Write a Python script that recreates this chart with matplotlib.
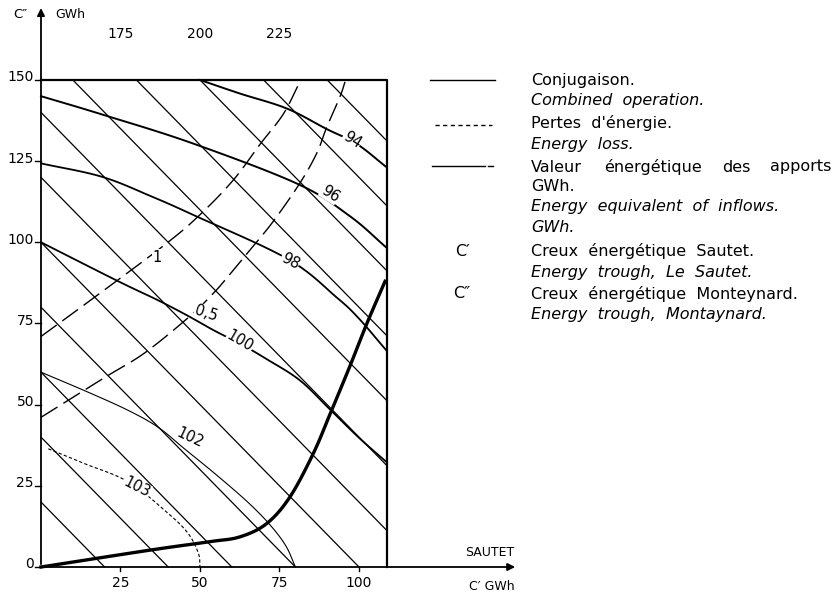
import numpy as np
import matplotlib.pyplot as plt
from matplotlib.lines import Line2D

plt.rcParams['font.family'] = ['DejaVu Sans']

W, H = 838, 601

# box limits: C' (Sautet) and C'' (Monteynard) energy troughs, GWh
c1_max = 108.7
c2_max = 150
x_axis_end = 150
y_axis_end = 173

# straight lines C' + C'' = const
totals = [20, 40, 60, 80, 100, 120, 140, 160, 180, 200, 220, 240]
total_labels = [175, 200, 225]

y_ticks = [0, 25, 50, 75, 100, 125, 150]
x_ticks = [25, 50, 75, 100]

# energy equivalent of inflows, GWh
c94_x = [50, 62.6, 77.3, 89.8, 99.3, 108.7]
c94_y = [150, 145.8, 141.2, 134.9, 130.3, 123.1]
c96_x = [0, 19.1, 47.6, 80.9, 97.2, 108.7]
c96_y = [145, 139.4, 130.5, 117.9, 108, 98.3]
c98_x = [0, 19.1, 34.8, 48.4, 77.7, 93, 100, 108.7]
c98_y = [124.3, 120.2, 114.1, 108.2, 94.8, 83, 76.5, 66.6]
c100_x = [0, 24.3, 36.9, 46.3, 54.7, 62.6, 71, 81.4, 90.9, 100, 108.7]
c100_y = [100, 88, 82.1, 77.3, 72.7, 68.8, 64, 57.5, 48.5, 39.8, 32.3]
c102_x = [0, 14.9, 27.5, 36.9, 45, 55, 65, 72, 77, 80]
c102_y = [60, 53.8, 48.2, 43, 36.5, 28.5, 20, 13, 6.5, 0]
c103_x = [2.3, 13.8, 27.5, 40, 46.3, 49.5, 50]
c103_y = [36.4, 31.8, 26.2, 16.5, 10.3, 4.2, 0]

# energy loss curves
loss1_x = [0, 15.9, 39, 50, 60.5, 68.9, 76.2, 81.4]
loss1_y = [71, 82.4, 99.3, 108.5, 119.2, 130.2, 139.5, 149.4]
loss05_x = [0, 20.1, 32.7, 46.9, 54.2, 57.9, 65.7, 73, 81.4, 86.7, 89.8, 94, 95.6]
loss05_y = [46.1, 58.4, 66, 77.3, 84.3, 88.4, 97.6, 106.4, 118.2, 127.4, 135.3, 144.8, 149.4]

# combined operation
conj_x = [0, 34.3, 53.1, 62.6, 71, 78.3, 85.6, 90.9, 97.2, 102.4, 108.2]
conj_y = [0, 5.2, 7.8, 9.3, 13.4, 21.6, 34.9, 47.1, 62, 74.8, 88]


def fx(px):
    return px / W


def fy(py):
    return 1 - py / H


def smooth(xs, ys, n=10):
    # catmull-rom path through the read points, only for drawing
    p = np.column_stack([xs, ys]).astype(float)
    p = np.vstack([2 * p[0] - p[1], p, 2 * p[-1] - p[-2]])
    t = np.linspace(0, 1, n, endpoint=False)[:, None]
    out = []
    for i in range(1, len(p) - 2):
        p0, p1, p2, p3 = p[i - 1], p[i], p[i + 1], p[i + 2]
        out.append(0.5 * (2 * p1 + (p2 - p0) * t + (2 * p0 - 5 * p1 + 4 * p2 - p3) * t ** 2
                          + (3 * p1 - p0 - 3 * p2 + p3) * t ** 3))
    out.append(p[-2][None])
    out = np.vstack(out)
    return out[:, 0], out[:, 1]


fig = plt.figure(figsize=(W / 100, H / 100), dpi=100)
ax = fig.add_axes([0, 0, 1, 1])
ax.set_xlim(-12.89, 250.63)
ax.set_ylim(-10.47, 174.62)
ax.axis('off')

k = 'black'

# diagonals
for t in totals:
    x0 = max(0, t - c2_max)
    x1 = min(c1_max, t)
    ax.plot([x0, x1], [t - x0, t - x1], color=k, lw=0.9)

# curves
for cx, cy, lw in [(c94_x, c94_y, 1.4), (c96_x, c96_y, 1.4), (c98_x, c98_y, 1.3),
                   (c100_x, c100_y, 1.3), (c102_x, c102_y, 0.8)]:
    ax.plot(*smooth(cx, cy), color=k, lw=lw)
ax.plot(*smooth(c103_x, c103_y), color=k, lw=0.8, dashes=(3, 2))
ax.plot(*smooth(loss1_x, loss1_y), color=k, lw=1.0, dashes=(14, 5))
ax.plot(*smooth(loss05_x, loss05_y), color=k, lw=1.0, dashes=(14, 5))
ax.plot(*smooth(conj_x, conj_y), color=k, lw=2.4)

# box and axes
ax.plot([0, c1_max, c1_max], [c2_max, c2_max, 0], color=k, lw=1.6)
ax.annotate('', xy=(x_axis_end, 0), xytext=(0, 0),
            arrowprops=dict(arrowstyle='-|>', lw=1.3, color=k, mutation_scale=11))
ax.annotate('', xy=(0, y_axis_end), xytext=(0, 0),
            arrowprops=dict(arrowstyle='-|>', lw=1.3, color=k, mutation_scale=11))

for t in y_ticks:
    ax.plot([-1.9, 0], [t, t], color=k, lw=1.0)
    ax.text(-2.2, t + 0.8, str(t), ha='right', va='center', fontsize=10)
for t in x_ticks:
    ax.plot([t, t], [0, -1.3], color=k, lw=1.0)
    ax.text(t, -5.0, str(t), ha='center', va='center', fontsize=10)
for t in total_labels:
    ax.text(t - c2_max, 164, str(t), ha='center', va='center', fontsize=10)

fig.text(fx(20), fy(14), 'C″', ha='center', va='center', fontsize=9.5)
fig.text(fx(70), fy(15), 'GWh', ha='center', va='center', fontsize=9)
fig.text(fx(490), fy(552), 'SAUTET', ha='center', va='center', fontsize=9)
fig.text(fx(492), fy(586), 'C′ GWh', ha='center', va='center', fontsize=9)

# curve labels
box = dict(facecolor='white', edgecolor='none', pad=0.3)
for s, x, y, rot in [('94', 97.8, 131.6, -32), ('96', 90.9, 115, -32), ('98', 78.3, 94.2, -28),
                     ('100', 62.6, 69.6, -30), ('102', 46.9, 39.9, -25),
                     ('103', 30.2, 24.5, -27), ('1', 36.5, 95.4, 0), ('0,5', 51.9, 78.2, -18)]:
    ax.text(x, y, s, ha='center', va='center', fontsize=10.5, rotation=rot,
            rotation_mode='anchor', bbox=box)

# legend
fig.add_artist(Line2D([fx(430), fx(495)], [fy(80), fy(80)], color=k, lw=1.0))
fig.add_artist(Line2D([fx(435), fx(492)], [fy(125), fy(125)], color=k, lw=1.0,
                      dashes=(3, 2.5)))
fig.add_artist(Line2D([fx(432), fx(485)], [fy(166), fy(166)], color=k, lw=1.0))
fig.add_artist(Line2D([fx(488), fx(493)], [fy(166), fy(166)], color=k, lw=1.0))

tx = fx(531)
rows = [
    (80, 'Conjugaison.', 'normal'),
    (101, 'Combined  operation.', 'italic'),
    (123, 'Pertes  d\'énergie.', 'normal'),
    (144, 'Energy  loss.', 'italic'),
    (187, 'GWh.', 'normal'),
    (207, 'Energy  equivalent  of  inflows.', 'italic'),
    (228, 'GWh.', 'italic'),
    (251, 'Creux  énergétique  Sautet.', 'normal'),
    (272, 'Energy  trough,  Le  Sautet.', 'italic'),
    (294, 'Creux  énergétique  Monteynard.', 'normal'),
    (314, 'Energy  trough,  Montaynard.', 'italic'),
]
for py, s, style in rows:
    fig.text(tx, fy(py), s, ha='left', va='center', fontsize=11.5, style=style)
# justified line
for s, px in [('Valeur', 531), ('énergétique', 604), ('des', 722), ('apports', 770)]:
    fig.text(fx(px), fy(167), s, ha='left', va='center', fontsize=11.5)
fig.text(fx(462), fy(251), 'C′', ha='center', va='center', fontsize=11.5)
fig.text(fx(462), fy(294), 'C″', ha='center', va='center', fontsize=11.5)

fig.savefig('out.png', dpi=100, facecolor='white')
